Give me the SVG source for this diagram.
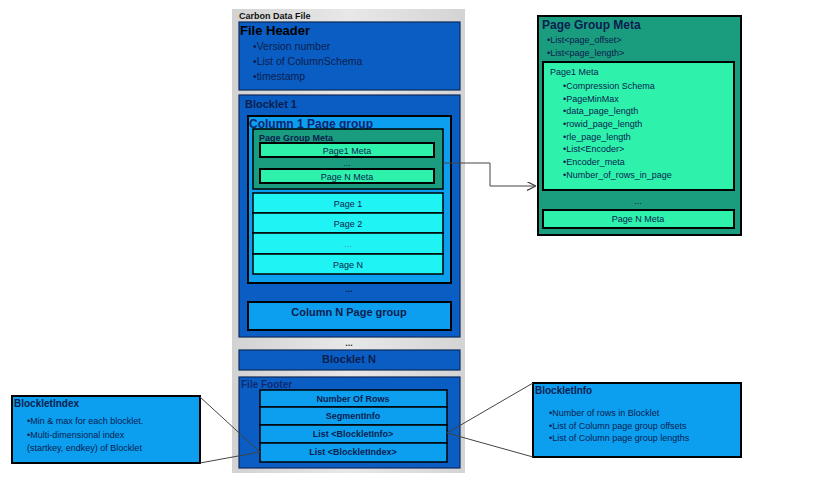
<svg xmlns="http://www.w3.org/2000/svg" width="834" height="500" viewBox="0 0 834 500">
<defs>
<marker id="arr" viewBox="0 0 10 10" refX="9" refY="5" markerWidth="9" markerHeight="9" orient="auto" markerUnits="userSpaceOnUse">
<path d="M0,0 L10,5 L0,10" fill="none" stroke="#333" stroke-width="1.3"/>
</marker>
<linearGradient id="gray" x1="0" y1="0" x2="1" y2="0">
<stop offset="0" stop-color="#d2d2d2"/><stop offset="0.5" stop-color="#e8e8e8"/><stop offset="1" stop-color="#d4d4d4"/>
</linearGradient>
</defs>
<style>
text{font-family:"Liberation Sans",Arial,sans-serif;fill:#0a1d4f}
.b{font-weight:bold}
.blue{fill:#0a5dc2;stroke:#0c2a5a;stroke-width:1.2}
.lb{fill:#0c9ff0;stroke:#000;stroke-width:2}
.lb1{fill:#0c9ff0;stroke:#000;stroke-width:1.5}
.teal{fill:#1a9c7e;stroke:#000;stroke-width:2}
.mint{fill:#2ef2ac;stroke:#000;stroke-width:2}
.cyan{fill:#1ff3f3;stroke:#000;stroke-width:1.5}
.bul{font-size:10.5px}
.sm{font-size:9px}
.c{text-anchor:middle}
.line{stroke:#444;stroke-width:1;fill:none}
</style>

<g id="carbon-data-file">
<rect x="232" y="9" width="233" height="464" fill="url(#gray)"/>
<text x="239" y="19" class="b" font-size="9" style="fill:#111">Carbon Data File</text>
</g>

<g id="file-header">
<rect class="blue" x="239" y="22" width="221" height="68"/>
<text x="240" y="35" class="b" font-size="13" style="fill:#000">File Header</text>
<text x="253" y="50" class="bul">•Version number</text>
<text x="253" y="65" class="bul">•List of ColumnSchema</text>
<text x="253" y="80" class="bul">•timestamp</text>
</g>

<g id="blocklet-1">
<rect class="blue" x="239" y="95" width="221" height="242"/>
<text x="245" y="108" class="b" font-size="11">Blocklet 1</text>
</g>

<g id="column-1-page-group">
<rect class="lb" x="248" y="116" width="203" height="167"/>
<text x="249" y="128" class="b" font-size="12" style="fill:#0b2670">Column 1 Page group</text>
</g>

<g id="page-group-meta-small">
<rect x="253" y="129" width="190" height="60" fill="#1a9c7e" stroke="#000" stroke-width="1.5"/>
<text x="259" y="141" class="b sm">Page Group Meta</text>
</g>
<g id="page1-meta-small">
<rect class="mint" x="260" y="143" width="174" height="14"/>
<text x="347" y="153.5" class="c sm">Page1 Meta</text>
</g>
<g id="pagen-meta-small">
<rect class="mint" x="260" y="169" width="174" height="14"/>
<text x="347" y="179.5" class="c sm">Page N Meta</text>
</g>
<text x="347" y="166" class="c sm">...</text>

<g id="page-1">
<rect class="cyan" x="253" y="193" width="190" height="20"/>
<text x="348" y="207" class="c sm">Page 1</text>
</g>
<g id="page-2">
<rect class="cyan" x="253" y="213" width="190" height="20"/>
<text x="348" y="227" class="c sm">Page 2</text>
</g>
<g id="page-dots">
<rect class="cyan" x="253" y="233" width="190" height="21"/>
<text x="348" y="247" class="c sm" style="fill:#5a8a9a">...</text>
</g>
<g id="page-n">
<rect class="cyan" x="253" y="254" width="190" height="20"/>
<text x="348" y="268" class="c sm">Page N</text>
</g>

<text x="349" y="292" class="c b sm" style="fill:#0a1d4f">...</text>

<g id="column-n-page-group">
<rect class="lb" x="248" y="302" width="203" height="28"/>
<text x="349" y="316" class="c b" font-size="11">Column N Page group</text>
</g>

<text x="349" y="346" class="c b sm" style="fill:#333">...</text>

<g id="blocklet-n">
<rect class="blue" x="239" y="350" width="221" height="20"/>
<text x="349" y="363" class="c b" font-size="11">Blocklet N</text>
</g>

<g id="file-footer">
<rect class="blue" x="239" y="377" width="221" height="91"/>
<text x="241" y="388" class="b" font-size="10" style="fill:#0d2a72">File Footer</text>
</g>
<g id="number-of-rows">
<rect class="lb1" x="260" y="390" width="187" height="17"/>
<text x="353" y="401.5" class="c b sm">Number Of Rows</text>
</g>
<g id="segmentinfo">
<rect class="lb1" x="260" y="407" width="187" height="18"/>
<text x="353" y="419" class="c b sm">SegmentInfo</text>
</g>
<g id="list-blockletinfo">
<rect class="lb1" x="260" y="425" width="187" height="18"/>
<text x="353" y="437" class="c b sm">List &lt;BlockletInfo&gt;</text>
</g>
<g id="list-blockletindex">
<rect class="lb1" x="260" y="443" width="187" height="19"/>
<text x="353" y="455" class="c b sm">List &lt;BlockletIndex&gt;</text>
</g>

<g id="page-group-meta">
<rect class="teal" x="538" y="16" width="203" height="219"/>
<text x="542" y="29" class="b" font-size="12">Page Group Meta</text>
<text x="547" y="43" class="sm">•List&lt;page_offset&gt;</text>
<text x="547" y="56" class="sm">•List&lt;page_length&gt;</text>
</g>
<g id="page1-meta">
<rect class="mint" x="543" y="62" width="191" height="128"/>
<text x="550" y="75" class="sm">Page1 Meta</text>
<text x="563" y="89" class="sm">•Compression Schema</text>
<text x="563" y="102" class="sm">•PageMinMax</text>
<text x="563" y="114" class="sm">•data_page_length</text>
<text x="563" y="127" class="sm">•rowid_page_length</text>
<text x="563" y="140" class="sm">•rle_page_length</text>
<text x="563" y="152" class="sm">•List&lt;Encoder&gt;</text>
<text x="563" y="165" class="sm">•Encoder_meta</text>
<text x="563" y="178" class="sm">•Number_of_rows_in_page</text>
</g>
<text x="638" y="204" class="c sm">...</text>
<g id="pagen-meta">
<rect class="mint" x="543" y="210" width="191" height="18"/>
<text x="638" y="222" class="c sm">Page N Meta</text>
</g>

<g id="blockletindex">
<rect class="lb" x="12" y="396" width="188" height="67"/>
<text x="14" y="407" class="b" font-size="10">BlockletIndex</text>
<text x="27" y="424" class="sm">•Min &amp; max for each blocklet.</text>
<text x="27" y="438" class="sm">•Multi-dimensional index</text>
<text x="27" y="451" class="sm">(startkey, endkey)  of Blocklet</text>
</g>

<g id="blockletinfo">
<rect class="lb" x="533" y="383" width="208" height="74"/>
<text x="535" y="394" class="b" font-size="10">BlockletInfo</text>
<text x="549" y="416" class="sm">•Number of rows in Blocklet</text>
<text x="549" y="429" class="sm">•List of  Column page group offsets</text>
<text x="549" y="441" class="sm">•List of  Column page group lengths</text>
</g>

<g id="connectors">
<path class="line" d="M443,163 H490 V186 H535" stroke="#333" marker-end="url(#arr)"/>
<path class="line" d="M200,397 L260,452"/>
<path class="line" d="M200,463 L260,452"/>
<path class="line" d="M533,383 L447,433"/>
<path class="line" d="M533,457 L447,433"/>
</g>
</svg>
